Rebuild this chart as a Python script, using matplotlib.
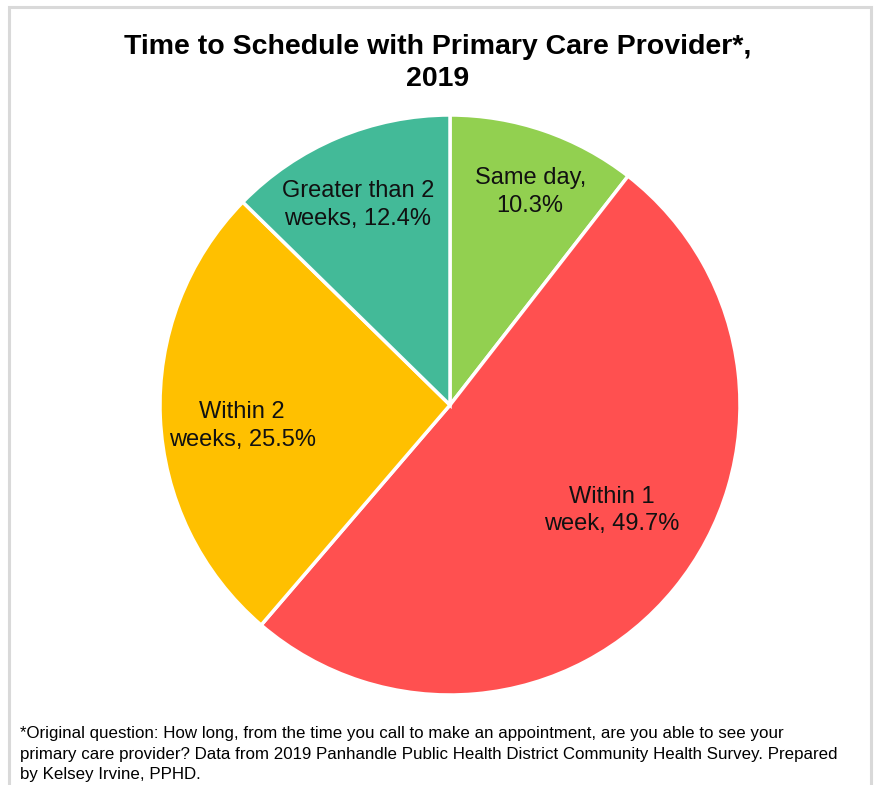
import numpy as np
import matplotlib
matplotlib.use("Agg")
import matplotlib.pyplot as plt
from matplotlib.patches import Rectangle

# ===== データ
categories = ["Same day", "Within 1 week", "Within 2 weeks", "Greater than 2 weeks"]
labels = ["Same day,\n10.3%", "Within 1\nweek, 49.7%", "Within 2\nweeks, 25.5%", "Greater than 2\nweeks, 12.4%"]
percents = [10.3, 49.7, 25.5, 12.4]
colors = ["#92D050", "#FF5050", "#FFC000", "#43BA98"]
# ラベル位置の調整(半径比, 角度オフセット)
label_dist = [0.785, 0.668, 0.72, 0.759]
label_shift = [-1.7, 6.1, 3.3, 1.9]

title = "Time to Schedule with Primary Care Provider*,\n2019"
footnote = ("*Original question: How long, from the time you call to make an appointment, are you able to see your\n"
            "primary care provider? Data from 2019 Panhandle Public Health District Community Health Survey. Prepared\n"
            "by Kelsey Irvine, PPHD.")


def main():
    W, H = 875, 785
    fig = plt.figure(figsize=(W / 100, H / 100), dpi=100)

    # 外枠
    fig.patches.append(Rectangle((9 / W, -0.05), 862 / W, (H - 7) / H + 0.05,
                                 transform=fig.transFigure, fill=False,
                                 edgecolor="#D9D9D9", linewidth=2.2))

    # ===== 円グラフ
    cx, cy, r = 450, 405, 290
    ax = fig.add_axes([(cx - r) / W, (H - cy - r) / H, 2 * r / W, 2 * r / H])
    wedges, _ = ax.pie(percents, colors=colors, startangle=90, counterclock=False,
                       wedgeprops=dict(edgecolor="white", linewidth=2.5))
    ax.set_xlim(-1, 1)
    ax.set_ylim(-1, 1)
    ax.set_aspect("equal")

    for w, lab, d, s in zip(wedges, labels, label_dist, label_shift):
        mid = np.deg2rad((w.theta1 + w.theta2) / 2 + s)
        ax.text(d * np.cos(mid), d * np.sin(mid), lab, ha="center", va="center",
                fontsize=17, family=["Liberation Sans", "DejaVu Sans"], color="#111111",
                linespacing=1.3)

    fig.text(0.5, (H - 63) / H, title, ha="center", va="center", fontsize=20.5,
             fontweight="bold", family=["Liberation Sans", "DejaVu Sans"], linespacing=1.3)

    fig.text(20 / W, (H - 754) / H, footnote, ha="left", va="center", fontsize=12.2,
             family=["Liberation Sans", "DejaVu Sans"], linespacing=1.45)

    fig.savefig("out.png", dpi=100)


if __name__ == "__main__":
    main()
